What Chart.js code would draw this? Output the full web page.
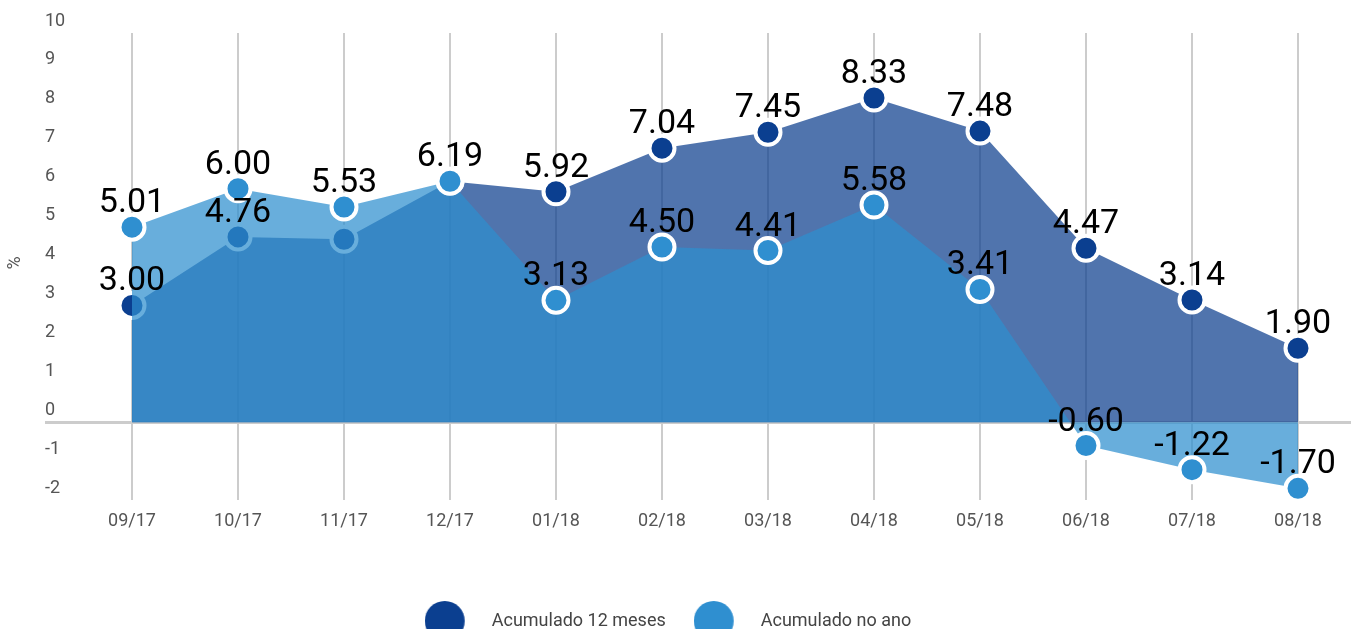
<!DOCTYPE html>
<html>
<head>
<meta charset="utf-8">
<script src="https://cdn.jsdelivr.net/npm/chart.js@4"></script>
<style>
html,body{margin:0;padding:0;background:#fff;overflow:hidden;}
#wrap{position:relative;width:1356px;height:640px;}
</style>
</head>
<body>
<div id="wrap"><canvas id="c"></canvas></div>
<script>
// ---- data ----
const categories = ['09/17','10/17','11/17','12/17','01/18','02/18','03/18','04/18','05/18','06/18','07/18','08/18'];
const acum12Meses = [3.00, 4.76, 4.70, 6.19, 5.92, 7.04, 7.45, 8.33, 7.48, 4.47, 3.14, 1.90];
const acumNoAno   = [5.01, 6.00, 5.53, 6.19, 3.13, 4.50, 4.41, 5.58, 3.41, -0.60, -1.22, -1.70];
const seriesNames = ['Acumulado 12 meses', 'Acumulado no ano'];
// which value labels are printed (1 = shown)
const showLabels12 = [1,1,0,0,1,1,1,1,1,1,1,1];
const showLabelsAno = [1,1,1,1,1,1,1,1,1,1,1,1];
const yTicks = [-2,-1,0,1,2,3,4,5,6,7,8,9,10];

const DARK = '#0b3f90';
const LIGHT = '#2f8fd0';
const FONT = 'Roboto';

function legendImg(color){
  const cv = document.createElement('canvas');
  cv.width = 58; cv.height = 40;
  const g = cv.getContext('2d');
  g.fillStyle = color;
  g.beginPath(); g.arc(20,20,20,0,Math.PI*2); g.fill();
  return cv;
}
const legendImgs = [legendImg(LIGHT), legendImg(DARK)];

const valueLabels = {
  id: 'valueLabels',
  afterDatasetsDraw(chart){
    const ctx = chart.ctx;
    ctx.save();
    ctx.font = '400 34px ' + FONT;
    ctx.fillStyle = '#000';
    ctx.textAlign = 'center';
    ctx.textBaseline = 'alphabetic';
    chart.data.datasets.forEach((ds, di) => {
      const meta = chart.getDatasetMeta(di);
      const show = ds.showLabels;
      meta.data.forEach((pt, i) => {
        if (!show[i]) return;
        ctx.fillText(ds.data[i].toFixed(2), pt.x, pt.y - 15);
      });
    });
    ctx.restore();
  }
};

const yTitle = {
  id: 'yTitle',
  afterDraw(chart){
    const ctx = chart.ctx;
    ctx.save();
    ctx.font = '400 18px ' + FONT;
    ctx.fillStyle = '#555';
    ctx.textAlign = 'center';
    ctx.textBaseline = 'middle';
    ctx.translate(15, 263);
    ctx.rotate(-Math.PI/2);
    ctx.fillText('%', 0, 0);
    ctx.restore();
  }
};

const legendShift = {
  id: 'legendShift',
  afterLayout(chart){
    if (chart.legend) { chart.legend.left -= 60; }
  }
};

new Chart(document.getElementById('c'), {
  type: 'line',
  data: {
    labels: categories,
    datasets: [
      {
        label: seriesNames[1],
        data: acumNoAno,
        showLabels: showLabelsAno,
        fill: 'origin',
        backgroundColor: 'rgba(46,143,207,0.72)',
        borderColor: 'rgba(0,0,0,0)',
        borderWidth: 0,
        tension: 0,
        pointRadius: 12.5,
        pointHoverRadius: 12.5,
        pointBorderWidth: 4,
        pointBackgroundColor: LIGHT,
        pointBorderColor: '#fff'
      },
      {
        label: seriesNames[0],
        data: acum12Meses,
        showLabels: showLabels12,
        fill: 'origin',
        backgroundColor: 'rgba(13,62,142,0.72)',
        borderColor: 'rgba(0,0,0,0)',
        borderWidth: 0,
        tension: 0,
        pointRadius: 12.5,
        pointHoverRadius: 12.5,
        pointBorderWidth: 4,
        pointBackgroundColor: DARK,
        pointBorderColor: '#fff'
      }
    ]
  },
  options: {
    responsive: true,
    maintainAspectRatio: false,
    animation: false,
    layout: { autoPadding: false, padding: { left: 45, right: 5, top: 33, bottom: 0 } },
    plugins: {
      tooltip: { enabled: false },
      legend: {
        position: 'bottom',
        labels: {
          usePointStyle: true,
          pointStyleWidth: 58,
          padding: 28,
          color: '#444',
          font: { family: FONT, size: 18 },
          sort: (a, b) => b.datasetIndex - a.datasetIndex,
          generateLabels(chart){
            const items = Chart.defaults.plugins.legend.labels.generateLabels(chart);
            items.forEach(it => { it.pointStyle = legendImgs[it.datasetIndex]; });
            return items;
          }
        }
      }
    },
    scales: {
      x: {
        offset: true,
        border: { display: false },
        grid: { color: '#cccccc', lineWidth: 2, drawTicks: false, offset: false },
        ticks: { padding: 11, color: '#555', font: { family: FONT, size: 18 } },
        afterFit(scale){ scale.height = 84; }
      },
      y: {
        min: -2,
        max: 10,
        border: { display: false },
        afterBuildTicks(scale){ scale.ticks = yTicks.map(v => ({ value: v })); },
        grid: {
          color: c => (c.tick && c.tick.value === 0) ? '#cccccc' : 'rgba(0,0,0,0)',
          tickColor: c => (c.tick && c.tick.value === 0) ? '#cccccc' : 'rgba(0,0,0,0)',
          lineWidth: 3,
          tickLength: 34,
          drawTicks: true
        },
        ticks: {
          crossAlign: 'far',
          labelOffset: -12,
          padding: 0,
          color: '#555',
          font: { family: FONT, size: 18 }
        },
        afterFit(scale){ scale.width = 34; }
      }
    }
  },
  plugins: [valueLabels, yTitle, legendShift]
});
</script>
</body>
</html>
